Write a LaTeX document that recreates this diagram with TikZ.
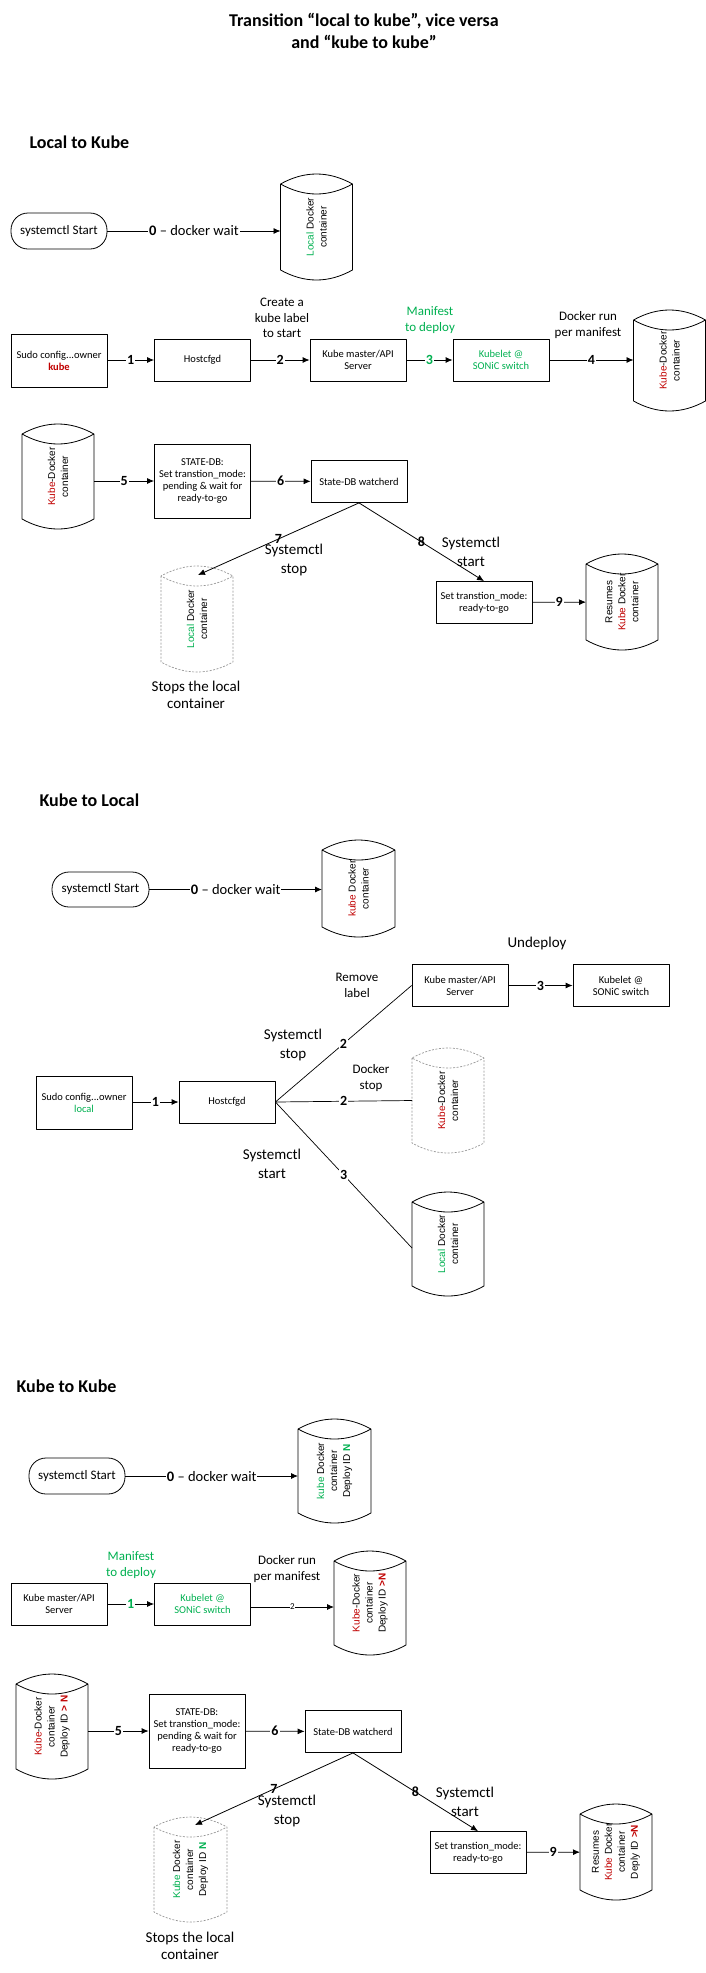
\documentclass[tikz,border=0pt]{standalone}
\usepackage{fontspec}
\setmainfont{Carlito}
\newfontfamily\cylfont{Liberation Sans}
\usetikzlibrary{calc,arrows.meta}
\definecolor{kgreen}{RGB}{0,176,80}
\definecolor{kred}{RGB}{192,0,0}
\definecolor{lgray}{RGB}{150,150,150}
\newcommand{\drawcyl}[2][]{%
\draw[cylline,#1] ($(#2.north west)+(0,10)$) -- ($(#2.south west)+(0,-10)$)
 .. controls ($(#2.south west)!0.3333!(#2.south east)+(0,3.33)$) and ($(#2.south west)!0.6667!(#2.south east)+(0,3.33)$) .. ($(#2.south east)+(0,-10)$)
 -- ($(#2.north east)+(0,10)$)
 .. controls ($(#2.north west)!0.6667!(#2.north east)+(0,-3.33)$) and ($(#2.north west)!0.3333!(#2.north east)+(0,-3.33)$) .. ($(#2.north west)+(0,10)$)
 .. controls ($(#2.north west)!0.3333!(#2.north east)+(0,23.33)$) and ($(#2.north west)!0.6667!(#2.north east)+(0,23.33)$) .. ($(#2.north east)+(0,10)$);}
\tikzset{
 box/.style={draw, line width=0.8pt, minimum width=96pt, minimum height=42pt, inner sep=1pt, align=center, font=\fontsize{10.5}{12}\selectfont},
 startbox/.style={box, rounded corners=17pt, minimum height=36pt, font=\fontsize{13}{15}\selectfont},
 cylbox/.style={minimum width=72pt, inner sep=0pt, outer sep=0pt},
 cylline/.style={line width=0.8pt},
 dashcyl/.style={draw=lgray, dash pattern=on 2pt off 1.5pt, line width=0.7pt},
 cyltext/.style={rotate=90, align=center, font=\cylfont\fontsize{10}{13}\selectfont},
 arr/.style={line width=0.8pt, -{Latex[length=7pt,width=6pt]}},
 ln/.style={line width=0.7pt},
 num/.style={fill=white, inner sep=1pt, font=\bfseries\fontsize{14}{14}\selectfont},
 nolab/.style={inner sep=0pt, font=\bfseries\fontsize{14}{14}\selectfont},
 waitlab/.style={fill=white, inner sep=1pt, font=\fontsize{14.5}{15}\selectfont},
 lab/.style={align=center, font=\fontsize{13}{16}\selectfont},
 labl/.style={align=center, font=\fontsize{15}{18.5}\selectfont},
 head/.style={anchor=west, font=\bfseries\fontsize{18}{22}\selectfont},
}
\begin{document}
\begin{tikzpicture}[x=1pt,y=-1pt,line join=round]
\useasboundingbox (0,0) rectangle (706,1973);
\node[align=center, font=\bfseries\fontsize{18}{22}\selectfont] (title) at (364,31) {Transition “local to kube”, vice versa\\and “kube to kube”};
% ---------------- Local to Kube
\node[head] (h1) at (26,142) {Local to Kube};
\node[startbox] (s1start) at (59,231) {systemctl Start};
\node[cylbox, minimum height=106pt] (s1local) at (316.5,227) {};
\drawcyl{s1local}
\node[cyltext] (s1localt) at (s1local) {\textcolor{kgreen}{Local} Docker\\container};
\draw[arr] (s1start.east) -- node[waitlab]{\textbf{0} – docker wait} (s1start.east -| s1local.west);
\node[box, minimum height=53pt] (s1sudo) at (59,360.5) {Sudo config...owner\\\textcolor{kred}{\textbf{kube}}};
\node[box] (s1host) at (202.5,360) {Hostcfgd};
\node[box] (s1master) at (358,360) {Kube master/API\\Server};
\node[box, text=kgreen] (s1kubelet) at (501,360) {Kubelet @\\SONiC switch};
\node[cylbox, minimum height=101pt] (s1kube) at (669.5,360.5) {};
\drawcyl{s1kube}
\node[cyltext] (s1kubet) at (s1kube) {\textcolor{kred}{Kube}-Docker\\container};
\draw[arr] (s1sudo.east |- s1host) -- node[num]{1} (s1host);
\draw[arr] (s1host) -- node[num]{2} (s1master);
\draw[arr] (s1master) -- node[num, text=kgreen]{3} (s1kubelet);
\draw[arr] (s1kubelet) -- node[num]{4} (s1kubelet -| s1kube.west);
\node[lab, font=\fontsize{13}{15.5}\selectfont] (s1l2) at (282,318) {Create a\\kube label\\to start};
\node[lab, text=kgreen] (s1l3) at (430,320) {Manifest\\to deploy};
\node[lab] (s1l4) at (588,325) {Docker run\\per manifest};
\node[cylbox, minimum height=105pt] (s1kc) at (58,476.5) {};
\drawcyl{s1kc}
\node[cyltext] (s1kct) at (s1kc) {\textcolor{kred}{Kube}-Docker\\container};
\node[box, minimum height=74pt] (s1state) at (202.5,481) {STATE-DB:\\Set transtion\_mode:\\pending \& wait for\\ready-to-go};
\node[box] (s1watch) at (359,481.5) {State-DB watcherd};
\draw[arr] (s1kc.east |- s1state) -- node[num]{5} (s1state);
\draw[arr] (s1state) -- node[num]{6} (s1watch);
\node[cylbox, minimum height=106pt] (s1dash) at (197,619) {};
\drawcyl[dashcyl]{s1dash}
\node[cyltext] (s1dasht) at (s1dash) {\textcolor{kgreen}{Local} Docker\\container};
\coordinate (s1dtop) at ($(s1dash.north)+(1,9)$);
\draw[arr] (s1watch.south) -- node[nolab]{7} (s1dtop);
\node[labl] (s1l7) at (294,560) {Systemctl\\stop};
\node[box] (s1ready) at (484,602.5) {Set transtion\_mode:\\ready-to-go};
\draw[arr] (s1watch.south) -- node[nolab]{8} (s1ready.north);
\node[labl] (s1l8) at (471,552) {Systemctl\\start};
\node[cylbox, minimum height=96pt] (s1res) at (622,602) {};
\drawcyl{s1res}
\node[cyltext] (s1rest) at (s1res) {Resumes\\\textcolor{kred}{Kube} Docker\\container};
\draw[arr] (s1ready) -- node[num]{9} (s1res);
\node[labl, font=\fontsize{15}{16.5}\selectfont] (s1stop) at (196,695) {Stops the local\\container};
% ---------------- Kube to Local
\node[head] (h2) at (36,800) {Kube to Local};
\node[startbox, minimum height=35pt, minimum width=97pt] (s2start) at (100.5,889.5) {systemctl Start};
\node[cylbox, minimum height=97pt, minimum width=73pt] (s2kube) at (358.5,888.5) {};
\drawcyl{s2kube}
\node[cyltext] (s2kubet) at (s2kube) {\textcolor{kred}{kube} Docker\\container};
\draw[arr] (s2start) -- node[waitlab]{\textbf{0} – docker wait} (s2start -| s2kube.west);
\node[labl] (s2und) at (537,943) {Undeploy};
\node[box] (s2master) at (460,985.5) {Kube master/API\\Server};
\node[box] (s2kubelet) at (621,985.5) {Kubelet @\\SONiC switch};
\draw[arr] (s2master) -- node[num]{3} (s2kubelet);
\node[lab] (s2rem) at (357,985) {Remove\\label};
\node[box, minimum height=53pt] (s2sudo) at (84,1102.5) {Sudo config...owner\\\textcolor{kgreen}{local}};
\node[box] (s2host) at (227,1102) {Hostcfgd};
\draw[arr] (s2sudo.east |- s2host) -- node[num]{1} (s2host);
\node[cylbox, minimum height=105pt] (s2dash) at (448,1100.5) {};
\drawcyl[dashcyl]{s2dash}
\node[cyltext] (s2dasht) at (s2dash) {\textcolor{kred}{Kube}-Docker\\container};
\node[cylbox, minimum height=104pt] (s2local) at (448,1244) {};
\drawcyl{s2local}
\node[cyltext] (s2localt) at (s2local) {\textcolor{kgreen}{Local} Docker\\container};
\draw[ln] (s2host.east) -- node[num]{2} (s2master.west);
\draw[ln] (s2host.east) -- node[num]{2} (s2dash.west);
\draw[ln] (s2host.east) -- node[num]{3} ($(s2local.west)+(0,4)$);
\node[labl] (s2l1) at (293,1045) {Systemctl\\stop};
\node[lab] (s2l2) at (371,1078) {Docker\\stop};
\node[labl] (s2l3) at (272,1164) {Systemctl\\start};
% ---------------- Kube to Kube
\node[head] (h3) at (13,1386) {Kube to Kube};
\node[startbox] (s3start) at (77,1476) {systemctl Start};
\node[cylbox, minimum height=104pt, minimum width=73pt] (s3dep) at (334.5,1471) {};
\drawcyl{s3dep}
\node[cyltext] (s3dept) at (s3dep) {\textcolor{kgreen}{kube} Docker\\container\\Deploy ID \textcolor{kgreen}{\textbf{N}}};
\draw[arr] (s3start) -- node[waitlab]{\textbf{0} – docker wait} (s3start -| s3dep.west);
\node[box] (s3master) at (59,1604) {Kube master/API\\Server};
\node[box, text=kgreen] (s3kubelet) at (202.5,1604) {Kubelet @\\SONiC switch};
\draw[arr] (s3master) -- node[num, text=kgreen]{1} (s3kubelet);
\node[lab, text=kgreen] (s3l1) at (131,1565) {Manifest\\to deploy};
\node[cylbox, minimum height=104pt] (s3new) at (370,1603) {};
\drawcyl{s3new}
\node[cyltext] (s3newt) at (s3new) {\textcolor{kred}{Kube}-Docker\\container\\Deploy ID \textcolor{kred}{\textbf{>N}}};
\coordinate (s3k2) at ($(s3kubelet.east)+(0,3)$);
\draw[arr] (s3k2) -- node[fill=white, inner sep=0.5pt, font=\fontsize{9}{9}\selectfont]{2} (s3k2 -| s3new.west);
\node[lab] (s3l2) at (287,1569) {Docker run\\per manifest};
\node[cylbox, minimum height=105pt] (s3kc) at (52,1726.5) {};
\drawcyl{s3kc}
\node[cyltext] (s3kct) at (s3kc) {\textcolor{kred}{Kube}-Docker\\container\\Deploy ID \textcolor{kred}{\textbf{> N}}};
\node[box, minimum height=74pt] (s3state) at (197,1731) {STATE-DB:\\Set transtion\_mode:\\pending \& wait for\\ready-to-go};
\node[box] (s3watch) at (353,1731.5) {State-DB watcherd};
\draw[arr] (s3kc.east |- s3state) -- node[num]{5} (s3state);
\draw[arr] (s3state) -- node[num]{6} (s3watch);
\node[cylbox, minimum height=105pt, minimum width=73pt] (s3dash) at (190.5,1869.5) {};
\drawcyl[dashcyl]{s3dash}
\node[cyltext] (s3dasht) at (s3dash) {\textcolor{kgreen}{Kube} Docker\\container\\Deploy ID \textcolor{kgreen}{\textbf{N}}};
\coordinate (s3dtop) at ($(s3dash.north)+(4.5,8)$);
\draw[arr] (s3watch.south) -- node[nolab]{7} (s3dtop);
\node[labl] (s3l7) at (287,1811) {Systemctl\\stop};
\node[box] (s3ready) at (478,1852.5) {Set transtion\_mode:\\ready-to-go};
\draw[arr] (s3watch.south) -- node[nolab]{8} (s3ready.north);
\node[labl] (s3l8) at (465,1802) {Systemctl\\start};
\node[cylbox, minimum height=96pt] (s3res) at (616,1852) {};
\drawcyl{s3res}
\node[cyltext] (s3rest) at (s3res) {Resumes\\\textcolor{kred}{Kube} Docker\\container\\Deply ID \textcolor{kred}{\textbf{>N}}};
\draw[arr] (s3ready) -- node[num]{9} (s3res);
\node[labl, font=\fontsize{15}{16.5}\selectfont] (s3stop) at (190,1946) {Stops the local\\container};
\end{tikzpicture}
\end{document}
